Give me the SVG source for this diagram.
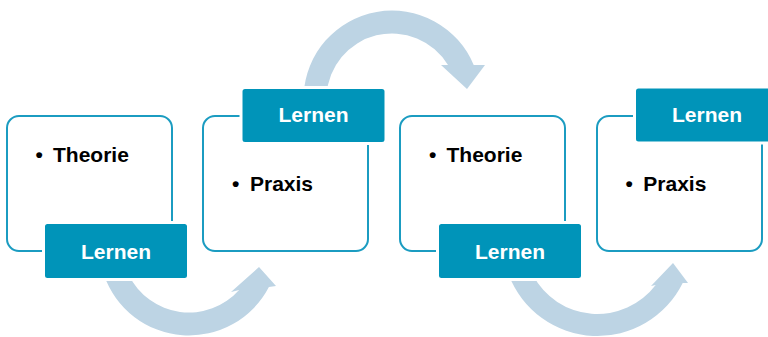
<svg xmlns="http://www.w3.org/2000/svg" width="768" height="337" viewBox="0 0 768 337">
<style>
.card{fill:#fff;stroke:#1b9cc1;stroke-width:2}
.tab{fill:#0094b9;stroke:#fff;stroke-width:3}
.tabt{font-family:"Liberation Sans",Arial,sans-serif;font-weight:bold;font-size:21px;fill:#fff;text-anchor:middle}
.txt{font-family:"Liberation Sans",Arial,sans-serif;font-weight:bold;font-size:21px;fill:#000}
.arr{fill:#bdd4e4}
</style>
<rect width="768" height="337" fill="#fff"/>
<g id="connectors">
<path class="arr" d="M104,275 A90 90 0 0 0 268.9,287 L276,286 L259,267 L231,292 L239.1,290 A67 67 0 0 1 128.8,275 Z"/>
<path class="arr" d="M303.6,95 A88.5 88.5 0 0 1 473.7,65 L485,65 L467,89 L441,65 L448,65 A65.5 65.5 0 0 0 326.6,95 Z"/>
<path class="arr" d="M508.8,275 A95 95 0 0 0 682.7,283 L688,283 L673,263 L651,286 L655.7,285 A73 73 0 0 1 532.9,275 Z"/>
</g>
<g id="node1">
<rect class="card" x="7" y="116" width="165" height="135" rx="12"/>
<text class="txt" y="162"><tspan x="35.6">•</tspan><tspan x="53">Theorie</tspan></text>
<rect class="tab" x="43.5" y="222.5" width="145" height="57" rx="4"/>
<text class="tabt" x="116" y="258.5">Lernen</text>
</g>
<g id="node2">
<rect class="card" x="203" y="116" width="165" height="135" rx="12"/>
<text class="txt" y="191"><tspan x="232">•</tspan><tspan x="250">Praxis</tspan></text>
<rect class="tab" x="241" y="87.5" width="145" height="56" rx="4"/>
<text class="tabt" x="313.5" y="122">Lernen</text>
</g>
<g id="node3">
<rect class="card" x="400" y="116" width="165" height="135" rx="12"/>
<text class="txt" y="162"><tspan x="429">•</tspan><tspan x="446.5">Theorie</tspan></text>
<rect class="tab" x="437.5" y="222.5" width="145" height="57" rx="4"/>
<text class="tabt" x="510" y="258.5">Lernen</text>
</g>
<g id="node4">
<rect class="card" x="597" y="116" width="165" height="135" rx="12"/>
<text class="txt" y="190.5"><tspan x="625.6">•</tspan><tspan x="643.3">Praxis</tspan></text>
<rect class="tab" x="634.5" y="87" width="145" height="56" rx="4"/>
<text class="tabt" x="707" y="122">Lernen</text>
</g>
</svg>
